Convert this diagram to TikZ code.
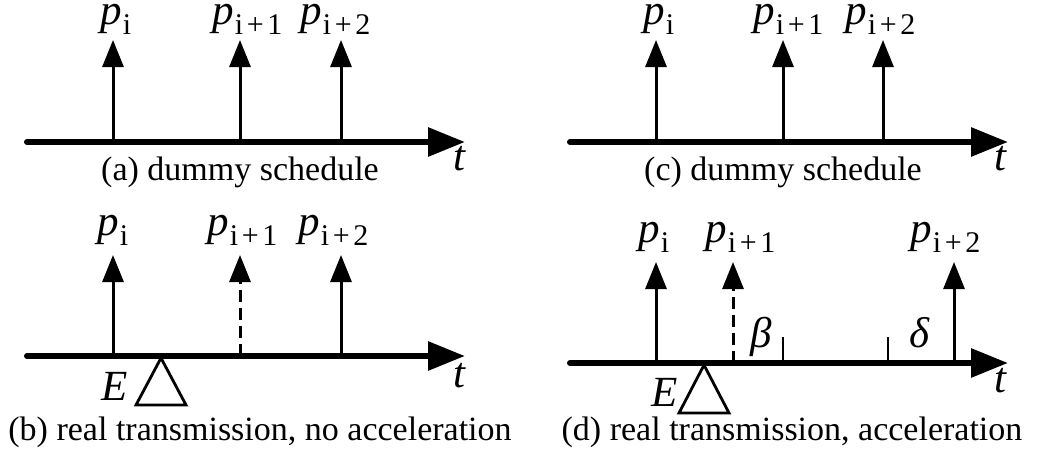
\documentclass[tikz,border=0pt]{standalone}
\usepackage{fontspec}
\setmainfont{Liberation Serif}
\usetikzlibrary{arrows.meta}

\newcommand{\plab}[1]{p\kern0.5pt\raisebox{-5pt}{\fontsize{15}{16}\selectfont\upshape #1}}
\newcommand{\inc}[1]{i\kern1.8pt+\kern1.8pt#1}

\begin{document}
\begin{tikzpicture}[
  x=0.5pt, y=-0.5pt,
  axis/.style={line width=3pt, line cap=round, -{Triangle[length=18.5pt,width=14pt]}},
  pulse/.style={line width=1.5pt, -{Triangle[length=13.5pt,width=10.5pt]}},
  ghost/.style={pulse, dash pattern=on 6pt off 3pt},
  tickline/.style={line width=1.2pt},
  event/.style={line width=1.4pt, line join=miter},
  var/.style={font=\fontsize{21.5}{24}\selectfont\itshape, inner sep=0pt, anchor=base west},
  caption/.style={font=\fontsize{17}{20}\selectfont, inner sep=0pt, anchor=base}
]
\useasboundingbox (0,0) rectangle (1037,466);

% (a) dummy schedule
\coordinate (a-start) at (27,142);
\coordinate (a-end) at (465,142);
\coordinate (a-1) at (113,142); \coordinate (a-1-top) at (113,40);
\coordinate (a-2) at (240,142); \coordinate (a-2-top) at (240,40);
\coordinate (a-3) at (341,142); \coordinate (a-3-top) at (341,40);
\draw[axis] (a-start) -- (a-end);
\draw[pulse] (a-1) -- (a-1-top);
\draw[pulse] (a-2) -- (a-2-top);
\draw[pulse] (a-3) -- (a-3-top);
\node[var] (a-p1) at (100,25) {\plab{i}};
\node[var] (a-p2) at (212,25) {\plab{\inc{1}}};
\node[var] (a-p3) at (300,25) {\plab{\inc{2}}};
\node[var] (a-t) at (453,170) {t};
\node[caption] (a-cap) at (240,180) {(a) dummy schedule};

% (c) dummy schedule
\coordinate (c-start) at (570,142);
\coordinate (c-end) at (1008,142);
\coordinate (c-1) at (656,142); \coordinate (c-1-top) at (656,40);
\coordinate (c-2) at (783,142); \coordinate (c-2-top) at (783,40);
\coordinate (c-3) at (883,142); \coordinate (c-3-top) at (883,40);
\draw[axis] (c-start) -- (c-end);
\draw[pulse] (c-1) -- (c-1-top);
\draw[pulse] (c-2) -- (c-2-top);
\draw[pulse] (c-3) -- (c-3-top);
\node[var] (c-p1) at (643,25) {\plab{i}};
\node[var] (c-p2) at (753,25) {\plab{\inc{1}}};
\node[var] (c-p3) at (845,25) {\plab{\inc{2}}};
\node[var] (c-t) at (994,170) {t};
\node[caption] (c-cap) at (783,180) {(c) dummy schedule};

% (b) real transmission, no acceleration
\coordinate (b-start) at (27,356);
\coordinate (b-end) at (465,356);
\coordinate (b-1) at (113,356); \coordinate (b-1-top) at (113,255);
\coordinate (b-2) at (240,356); \coordinate (b-2-top) at (240,255);
\coordinate (b-3) at (341,356); \coordinate (b-3-top) at (341,255);
\coordinate (b-e) at (161,358);
\draw[axis] (b-start) -- (b-end);
\draw[pulse] (b-1) -- (b-1-top);
\draw[ghost] (b-2) -- (b-2-top);
\draw[pulse] (b-3) -- (b-3-top);
\draw[event] (b-e) -- ++(25,47) -- ++(-50,0) -- cycle;
\node[var] (b-p1) at (97,235) {\plab{i}};
\node[var] (b-p2) at (207,235) {\plab{\inc{1}}};
\node[var] (b-p3) at (298,235) {\plab{\inc{2}}};
\node[var] (b-E) at (101,400) {E};
\node[var] (b-t) at (453,387) {t};
\node[caption] (b-cap) at (260,440) {(b) real transmission, no acceleration};

% (d) real transmission, acceleration
\coordinate (d-start) at (570,363);
\coordinate (d-end) at (1008,363);
\coordinate (d-1) at (656,363); \coordinate (d-1-top) at (656,262);
\coordinate (d-2) at (733,363); \coordinate (d-2-top) at (733,262);
\coordinate (d-3) at (954,363); \coordinate (d-3-top) at (954,262);
\coordinate (d-b) at (783,363); \coordinate (d-b-top) at (783,337);
\coordinate (d-d) at (888,363); \coordinate (d-d-top) at (888,337);
\coordinate (d-e) at (704,365);
\draw[axis] (d-start) -- (d-end);
\draw[pulse] (d-1) -- (d-1-top);
\draw[ghost] (d-2) -- (d-2-top);
\draw[pulse] (d-3) -- (d-3-top);
\draw[tickline] (d-b) -- (d-b-top);
\draw[tickline] (d-d) -- (d-d-top);
\draw[event] (d-e) -- ++(25,48) -- ++(-50,0) -- cycle;
\node[var] (d-p1) at (638,242) {\plab{i}};
\node[var] (d-p2) at (705,242) {\plab{\inc{1}}};
\node[var] (d-p3) at (910,242) {\plab{\inc{2}}};
\node[var] (d-beta) at (750,347) {β};
\node[var] (d-delta) at (909,347) {δ};
\node[var] (d-E) at (651,406) {E};
\node[var] (d-t) at (994,392) {t};
\node[caption] (d-cap) at (792,440) {(d) real transmission, acceleration};
\end{tikzpicture}
\end{document}
